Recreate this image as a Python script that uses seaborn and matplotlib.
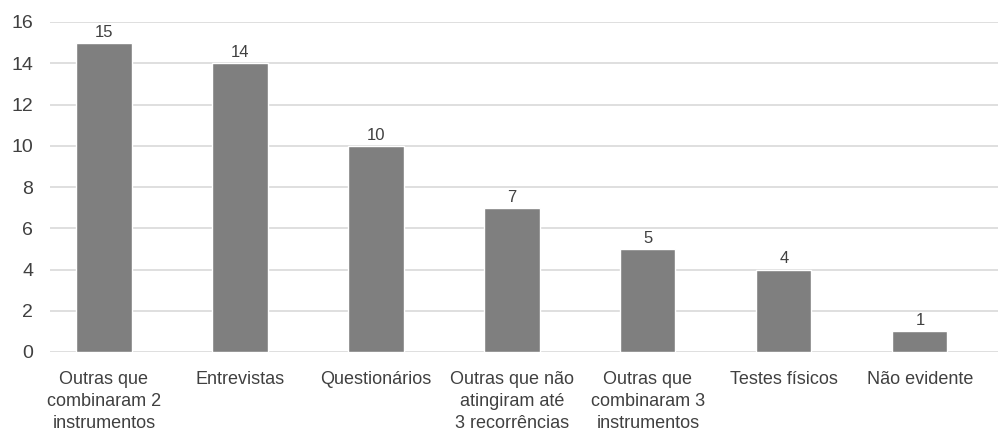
import matplotlib
matplotlib.use("Agg")
import matplotlib.pyplot as plt
import seaborn as sns
import pandas as pd

categories = [
    "Outras que\ncombinaram 2\ninstrumentos",
    "Entrevistas",
    "Questionários",
    "Outras que não\natingiram até\n3 recorrências",
    "Outras que\ncombinaram 3\ninstrumentos",
    "Testes físicos",
    "Não evidente",
]
counts = [15, 14, 10, 7, 5, 4, 1]
y_ticks = [0, 2, 4, 6, 8, 10, 12, 14, 16]

df = pd.DataFrame({"categoria": categories, "n": counts})

sns.set_theme(style="white")
plt.rcParams["font.family"] = ["Liberation Sans", "DejaVu Sans"]

fig = plt.figure(figsize=(9.98, 4.33), dpi=100)
ax = fig.add_axes([50 / 998, 1 - 352 / 433, 948 / 998, 330 / 433])

sns.barplot(data=df, x="categoria", y="n", color="#7f7f7f", saturation=1,
            width=0.405, ax=ax)

for patch, v in zip(ax.patches, counts):
    ax.text(patch.get_x() + patch.get_width() / 2, v + 0.15, str(v),
            ha="center", va="bottom", fontsize=12, color="#404040")

ax.set_ylim(0, 16)
ax.set_xlim(-0.397, 6.574)
ax.set_yticks(y_ticks)
ax.yaxis.grid(True, color="#d9d9d9", linewidth=1.2)
ax.set_axisbelow(True)
for s in ax.spines.values():
    s.set_visible(False)
ax.set_xlabel("")
ax.set_ylabel("")
ax.tick_params(axis="y", length=0, pad=12, labelsize=14, labelcolor="#404040")
ax.tick_params(axis="x", length=0, pad=14, labelsize=13, labelcolor="#404040")
for lbl in ax.get_xticklabels():
    lbl.set_linespacing(1.38)

fig.savefig("out.png", dpi=100)
